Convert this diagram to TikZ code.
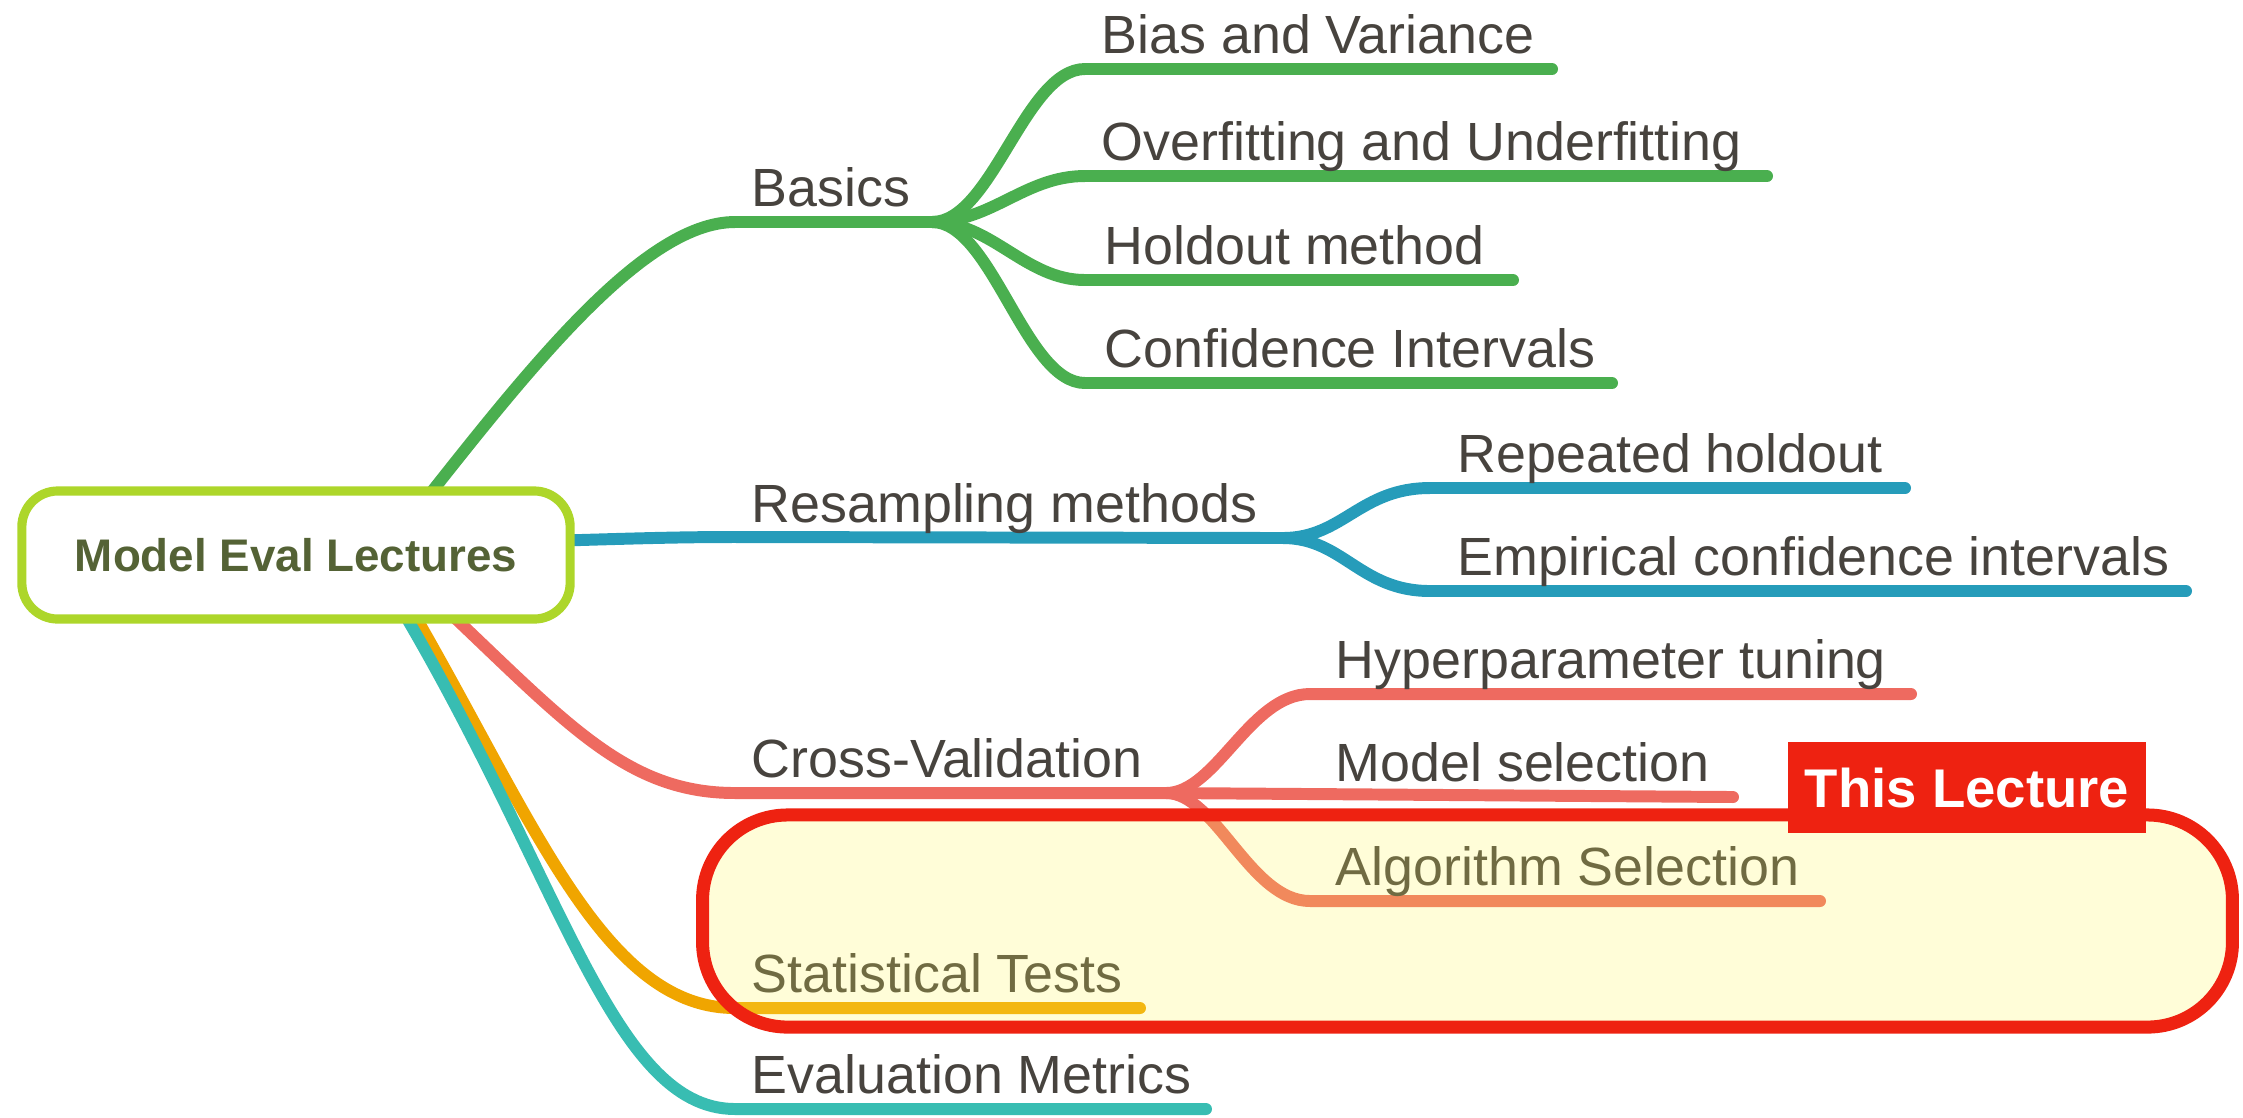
\documentclass[tikz,border=0pt]{standalone}
\usepackage{fontspec}
\setmainfont{Liberation Sans}
\definecolor{cgreen}{HTML}{4AAF4F}
\definecolor{cblue}{HTML}{269CBA}
\definecolor{csalmon}{HTML}{EE6A60}
\definecolor{corange}{HTML}{F0A500}
\definecolor{cteal}{HTML}{38BDB2}
\definecolor{clime}{HTML}{ADD62A}
\definecolor{cred}{HTML}{EE2211}
\definecolor{ctext}{HTML}{47433E}
\definecolor{croot}{HTML}{546235}
\definecolor{chl}{RGB}{255,246,82}
\begin{document}
\begin{tikzpicture}[x=0.01cm,y=-0.01cm,
  branch/.style={line width=3.4pt, line cap=round},
  lbl/.style={anchor=base west, inner sep=0pt, text=ctext, font=\fontsize{15.3}{18}\selectfont},
  rootbox/.style={draw=clime, line width=2.6pt, fill=white, rounded corners=0.36cm,
    minimum width=5.48cm, minimum height=1.28cm, inner sep=0pt, text=croot,
    font=\fontsize{13}{15}\selectfont\bfseries},
  hlbox/.style={draw=cred, line width=3.7pt, fill=chl, fill opacity=0.225, rounded corners=0.85cm,
    minimum width=15.29cm, minimum height=2.12cm, inner sep=0pt},
  tag/.style={fill=cred, text=white, inner sep=0pt, minimum width=3.58cm, minimum height=0.91cm,
    font=\fontsize{15.5}{18}\selectfont\bfseries}
]
\useasboundingbox (0,0) rectangle (2243,1117);

% coordinates
\coordinate (gS) at (400,532);
\coordinate (gA) at (735,222);
\coordinate (gJ) at (932,222);
\coordinate (b1A) at (1085,69);  \coordinate (b1E) at (1552,69);
\coordinate (b2A) at (1085,176); \coordinate (b2E) at (1767,176);
\coordinate (b3A) at (1085,280); \coordinate (b3E) at (1513,280);
\coordinate (b4A) at (1085,383); \coordinate (b4E) at (1612,383);

\coordinate (rS) at (400,545);
\coordinate (rA) at (735,537);
\coordinate (rJ) at (1283,538);
\coordinate (r1A) at (1430,488); \coordinate (r1E) at (1905,488);
\coordinate (r2A) at (1430,591); \coordinate (r2E) at (2186,591);

\coordinate (cS) at (420,585);
\coordinate (cA) at (735,793);
\coordinate (cJ) at (1166,793);
\coordinate (c1A) at (1310,694); \coordinate (c1E) at (1911,694);
\coordinate (c2E) at (1733,797);
\coordinate (c3A) at (1310,901); \coordinate (c3E) at (1820,901);

\coordinate (sS) at (400,590);
\coordinate (sA) at (735,1008);
\coordinate (sE) at (1140,1008);

\coordinate (eS) at (390,590);
\coordinate (eA) at (735,1109);
\coordinate (eE) at (1206,1109);

% branches
\draw[branch,cgreen] (gS) .. controls (520,380) and (640,222) .. (gA) -- (gJ);
\foreach \n in {1,2,3,4}
  \draw[branch,cgreen] (gJ) .. controls +(60,0) and +(-60,0) .. (b\n A) -- (b\n E);

\draw[branch,cblue] (rS) .. controls (600,540) and (650,537) .. (rA) -- (rJ);
\foreach \n in {1,2}
  \draw[branch,cblue] (rJ) .. controls +(60,0) and +(-70,0) .. (r\n A) -- (r\n E);

\draw[branch,csalmon] (cS) .. controls (560,715) and (620,793) .. (cA) -- (cJ) -- (c2E);
\draw[branch,csalmon] (cJ) .. controls +(50,0) and +(-60,0) .. (c1A) -- (c1E);
\draw[branch,csalmon] (cJ) .. controls +(50,0) and +(-60,0) .. (c3A) -- (c3E);

\draw[branch,corange] (sS) .. controls (530,810) and (600,1008) .. (sA) -- (sE);
\draw[branch,cteal] (eS) .. controls (560,870) and (610,1109) .. (eA) -- (eE);

% labels
\node[lbl] (tBasics) at (751,206) {Basics};
\node[lbl] (tBias) at (1101,53) {Bias and Variance};
\node[lbl] (tOver) at (1101,160) {Overfitting and Underfitting};
\node[lbl] (tHold) at (1104,264) {Holdout method};
\node[lbl] (tConf) at (1104,367) {Confidence Intervals};
\node[lbl] (tResamp) at (751,522) {Resampling methods};
\node[lbl] (tRep) at (1457,472) {Repeated holdout};
\node[lbl] (tEmp) at (1457,575) {Empirical confidence intervals};
\node[lbl] (tCV) at (751,777) {Cross-Validation};
\node[lbl] (tHyper) at (1335,678) {Hyperparameter tuning};
\node[lbl] (tModel) at (1335,781) {Model selection};
\node[lbl] (tAlgo) at (1335,885) {Algorithm Selection};
\node[lbl] (tStat) at (751,992) {Statistical Tests};
\node[lbl] (tEval) at (751,1093) {Evaluation Metrics};

% highlight
\node[hlbox] (hl) at (1467.5,921) {};
\node[tag] (lecture) at (1967,787.5) {This Lecture};

% root
\node[rootbox] (root) at (296,555) {Model Eval Lectures};
\end{tikzpicture}
\end{document}
